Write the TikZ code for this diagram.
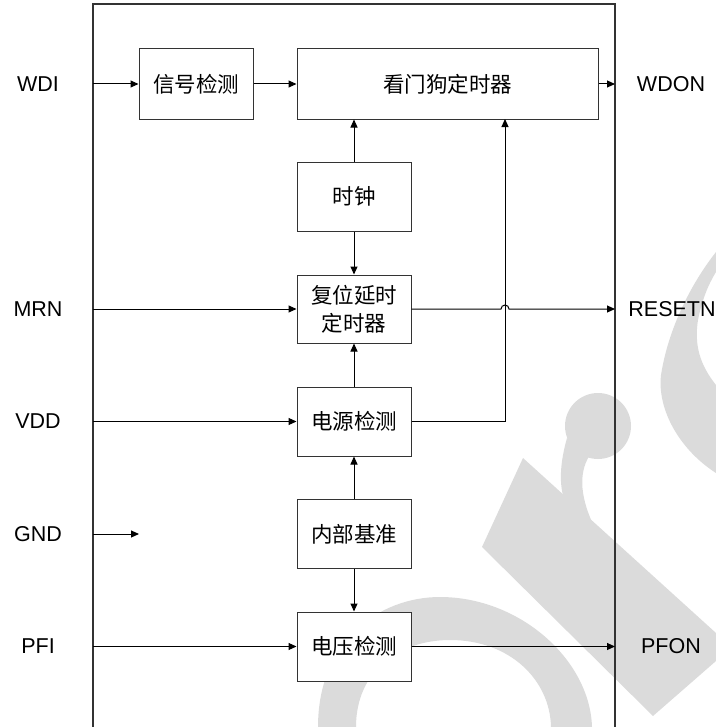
\documentclass[tikz,border=0pt]{standalone}
\usepackage{fontspec}
\setmainfont{Liberation Sans}
\newfontfamily\cjk{Noto Sans CJK SC}
\usetikzlibrary{arrows.meta}
\begin{document}
\begin{tikzpicture}[x=1bp,y=-1bp,
  blk/.style={draw=black!80, fill=white, line width=1bp, minimum width=114bp, minimum height=69bp, inner sep=0pt, align=center, font=\cjk\fontsize{21.5bp}{28bp}\selectfont},
  lbl/.style={font=\fontsize{21.5bp}{26bp}\selectfont, inner sep=0pt},
  conn/.style={line width=1bp, -{Triangle[length=8bp,width=7bp]}},
  wm/.style={fill=black!14, draw=none}]
\useasboundingbox (0,0) rectangle (716,727);
\clip (0,0) rectangle (716,727);
% watermark
\fill[wm] (318,740) -- (318,727) .. controls (318,640) and (380,597) .. (440,597) .. controls (520,597) and (590,660) .. (592,727) -- (592,740) -- (551,740) -- (551,727) .. controls (550,680) and (510,640) .. (450,640) .. controls (400,640) and (356,670) .. (356,727) -- (356,740) -- cycle;
\fill[wm] (716,252) .. controls (690,285) and (668,330) .. (661,375) .. controls (657,410) and (680,450) .. (716,473) -- (716,385) .. controls (700,365) and (694,345) .. (698,320) .. controls (702,300) and (708,285) .. (716,272) -- cycle;
\fill[wm] (523,458) -- (716,633) -- (716,661) -- (653,716) -- (482,547) -- cycle;
\fill[wm] (598,426) circle[radius=33bp];
\fill[wm] (567,438) .. controls (558,470) and (560,490) .. (566,505) -- (592,522) .. controls (580,495) and (578,470) .. (592,452) -- cycle;
% outer frame
\draw[line width=1.2bp, black!80] (93,740) -- (93,4) -- (615,4) -- (615,740);
% blocks
\node[blk, minimum height=70bp] (sig) at (196,84) {信号检测};
\node[blk, minimum width=301bp, minimum height=70bp] (wdt) at (447.5,84) {看门狗定时器};
\node[blk] (clk) at (354,196.5) {时钟};
\node[blk, minimum height=68bp] (rst) at (354,309) {复位延时\\定时器};
\node[blk] (pwr) at (354,421.5) {电源检测};
\node[blk] (ref) at (354,534) {内部基准};
\node[blk] (vol) at (354,646.5) {电压检测};
% pins
\node[lbl] (tWDI) at (38,84) {WDI};
\node[lbl] (tMRN) at (38,309) {MRN};
\node[lbl] (tVDD) at (38,421.5) {VDD};
\node[lbl] (tGND) at (38,534) {GND};
\node[lbl] (tPFI) at (38,646.5) {PFI};
\node[lbl] (tWDON) at (671,84) {WDON};
\node[lbl] (tRST) at (672,309) {RESETN};
\node[lbl] (tPFON) at (671,646.5) {PFON};
% coordinates
\coordinate (iWDI) at (93,84);
\coordinate (iMRN) at (93,309);
\coordinate (iVDD) at (93,421.5);
\coordinate (iGND) at (93,534);
\coordinate (gGND) at (139,534);
\coordinate (iPFI) at (93,646.5);
\coordinate (oWDON) at (615,84);
\coordinate (oRST) at (615,309);
\coordinate (oPFON) at (615,646.5);
\coordinate (hopL) at (501,309);
\coordinate (vtop) at (505,119);
% connectors
\draw[conn] (iWDI) -- (sig);
\draw[conn] (sig) -- (wdt);
\draw[conn] (wdt) -- (oWDON);
\draw[conn] (clk) -- (clk |- wdt.south);
\draw[conn] (clk) -- (rst);
\draw[conn] (iMRN) -- (rst);
\draw[conn] (rst.east) -- (hopL) arc[start angle=180, end angle=0, radius=4bp] -- (oRST);
\draw[conn] (iVDD) -- (pwr);
\draw[conn] (pwr) -- (rst);
\draw[conn] (pwr.east) -| (vtop);
\draw[conn] (ref) -- (pwr);
\draw[conn] (ref) -- (vol);
\draw[conn] (iGND) -- (gGND);
\draw[conn] (iPFI) -- (vol);
\draw[conn] (vol) -- (oPFON);
\end{tikzpicture}
\end{document}
